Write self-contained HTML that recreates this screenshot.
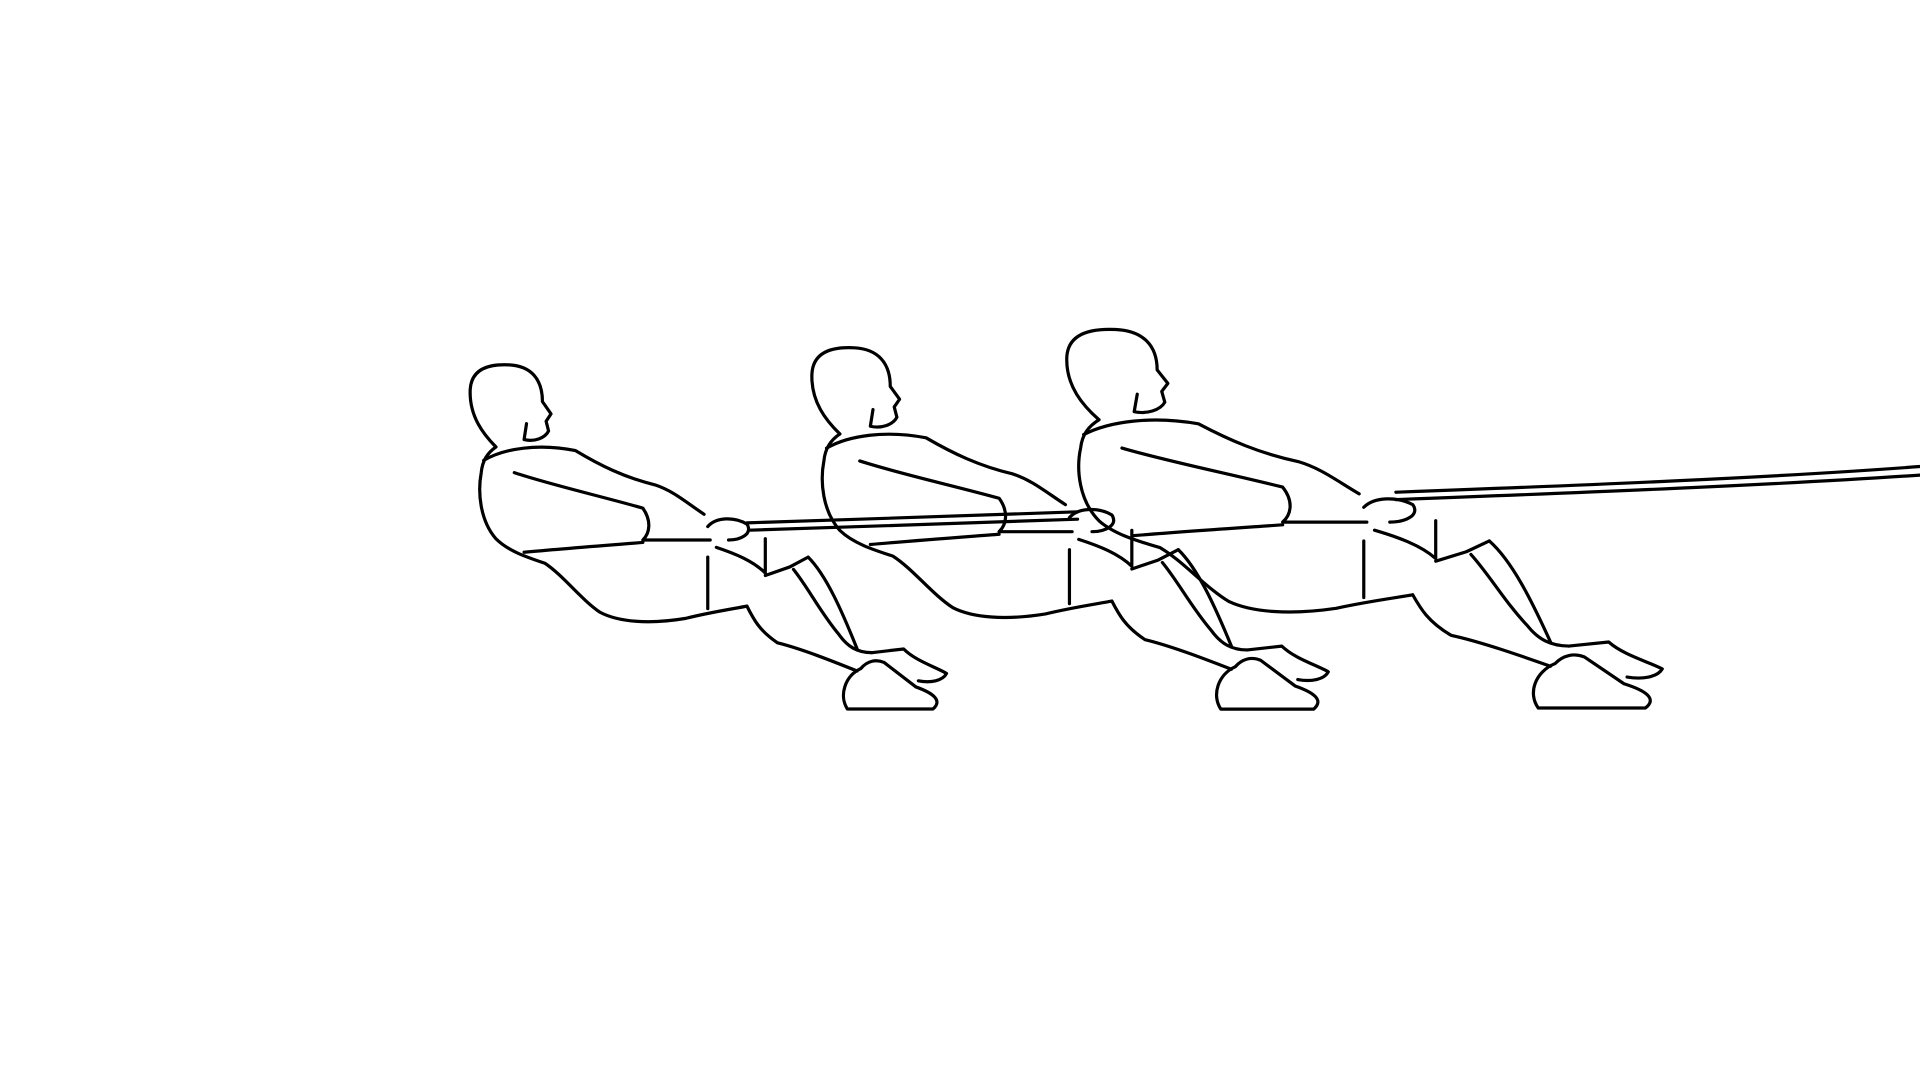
<!DOCTYPE html>
<html><head><meta charset="utf-8"><style>
html,body{margin:0;padding:0;background:#fff;width:1920px;height:1080px;overflow:hidden}
svg{display:block}
path{fill:none;stroke:#000;stroke-width:3.2;stroke-linecap:round;stroke-linejoin:round;vector-effect:non-scaling-stroke}
</style></head><body>
<svg width="1920" height="1080" viewBox="0 0 1568 882" preserveAspectRatio="none">
<defs>
<g id="fig">
<path d="M405,365 C395,355 383,340 384,318 C385,302 398,297 416,298 C434,299 443,310 443,328 L450,338 L446,344 L448,352 C445,358 436,361 428,359 L430,346"/>
<path d="M405,365 C398,370 394,376 393,386 C390,402 392,425 405,440 C415,450 430,455 445,460 C460,470 475,490 490,500 C505,508 530,510 560,505 C580,500 600,497 610,495"/>
<path d="M395,376 C412,366 440,362 470,368 C490,380 510,390 535,396 C550,401 560,410 575,420"/>
<path d="M420,386 C450,396 490,405 525,415 C532,425 531,435 525,441 L580,441"/>
<path d="M428,451 C460,448 500,445 525,443"/>
<path d="M578,430 C585,422 600,422 610,428 C615,436 605,441 595,441"/>
<path d="M578,455 L578,497"/>
<path d="M585,447 C600,452 615,458 625,468 L625,440"/>
<path d="M625,470 L645,463 L660,455"/>
<path d="M610,495 C615,505 620,515 635,525 C655,530 680,540 700,548"/>
<path d="M648,465 C660,480 670,500 685,518 C692,528 700,533 712,533"/>
<path d="M660,455 C675,470 688,500 700,530"/>
<path d="M703,546 C690,552 685,568 692,579 L762,579 C770,572 762,566 748,561 L722,541 C715,538 708,540 703,546"/>
<path d="M712,533 L738,530 C748,540 765,545 773,550 C770,556 760,558 750,556"/>
</g>
</defs>
<g>
<path d="M610,427 C700,424 800,421 880,418 M1140,402 C1300,396 1450,390 1568,381"/>
<path d="M612,433 C700,430 800,427 880,424 M1140,408 C1300,402 1450,396 1568,388"/>
</g>
<use href="#fig"/>
<use href="#fig" transform="translate(662,283) scale(1.084,1.05) translate(-383,-297)"/>
<use href="#fig" transform="translate(870,268) scale(1.25,1.10) translate(-383,-297)"/>
</svg>
</body></html>
